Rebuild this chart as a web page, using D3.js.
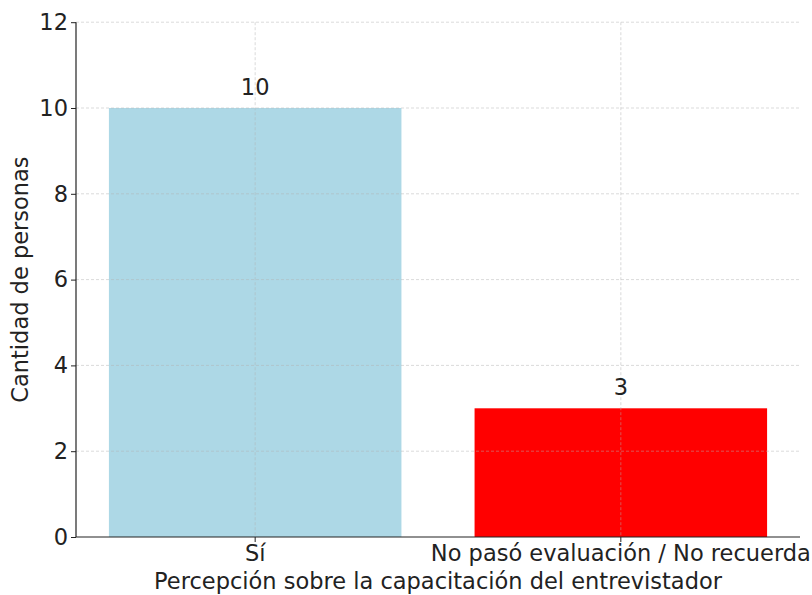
<!DOCTYPE html>
<html>
<head>
<meta charset="utf-8">
<script src="https://cdn.jsdelivr.net/npm/d3@7"></script>
<style>
  html, body { margin: 0; padding: 0; background: #fff; }
  svg { display: block; font-family: "DejaVu Sans", sans-serif; }
</style>
</head>
<body>
<svg id="chart" width="812" height="595"></svg>
<script>
const categories = ["Sí", "No pasó evaluación / No recuerda"];
const values = [10, 3];
const barColors = ["#ADD8E6", "#FF0000"];
const yTicks = [0, 2, 4, 6, 8, 10, 12];
const xTitle = "Percepción sobre la capacitación del entrevistador";
const yTitle = "Cantidad de personas";

const svg = d3.select("#chart");
const mLeft = 76, mRight = 800, mTop = 22.2, mBottom = 537;
const fs = 22.5;

const x = d3.scaleBand().domain(categories).range([mLeft, mRight])
  .paddingInner(0.2).paddingOuter(0.09);
const y = d3.scaleLinear().domain([0, 12]).range([mBottom, mTop]);

// bars
svg.append("g").selectAll("rect").data(categories).join("rect")
  .attr("x", d => x(d)).attr("width", x.bandwidth())
  .attr("y", (d, i) => y(values[i]))
  .attr("height", (d, i) => y(0) - y(values[i]))
  .attr("fill", (d, i) => barColors[i]);

// grid (drawn over bars)
const grid = svg.append("g").attr("stroke", "#b0b0b0").attr("stroke-opacity", 0.6)
  .attr("stroke-dasharray", "3,2").attr("stroke-width", 0.8);
grid.selectAll("line.h").data(yTicks.filter(t => t > 0)).join("line")
  .attr("x1", mLeft).attr("x2", mRight)
  .attr("y1", d => y(d)).attr("y2", d => y(d));
grid.selectAll("line.v").data(categories).join("line")
  .attr("x1", d => x(d) + x.bandwidth() / 2).attr("x2", d => x(d) + x.bandwidth() / 2)
  .attr("y1", mTop).attr("y2", mBottom);

// axes
const yAxis = svg.append("g").attr("transform", `translate(${mLeft},0)`)
  .call(d3.axisLeft(y).tickValues(yTicks).tickSize(5).tickPadding(3));
const xAxis = svg.append("g").attr("transform", `translate(0,${mBottom})`)
  .call(d3.axisBottom(x).tickSize(5).tickPadding(3));
[xAxis, yAxis].forEach(a => {
  a.selectAll("text").attr("font-size", fs).attr("font-family", "DejaVu Sans").attr("fill", "#222");
  a.selectAll("line").attr("stroke", "#222");
  a.select(".domain").attr("stroke", "#222").attr("stroke-width", 1.2);
});
yAxis.select(".domain").attr("d", `M0,${mBottom}V${mTop}`);
xAxis.select(".domain").attr("d", `M${mLeft},0H${mRight}`);

// value labels
svg.append("g").selectAll("text").data(categories).join("text")
  .attr("x", d => x(d) + x.bandwidth() / 2)
  .attr("y", (d, i) => y(values[i]) - 13)
  .attr("text-anchor", "middle").attr("font-size", fs).attr("fill", "#222")
  .text((d, i) => values[i]);

// titles
svg.append("text").attr("x", (mLeft + mRight) / 2).attr("y", 589)
  .attr("text-anchor", "middle").attr("font-size", fs).attr("fill", "#222").text(xTitle);
svg.append("text").attr("transform", `translate(28,${(mTop + mBottom) / 2}) rotate(-90)`)
  .attr("text-anchor", "middle").attr("font-size", fs).attr("fill", "#222").text(yTitle);
</script>
</body>
</html>
